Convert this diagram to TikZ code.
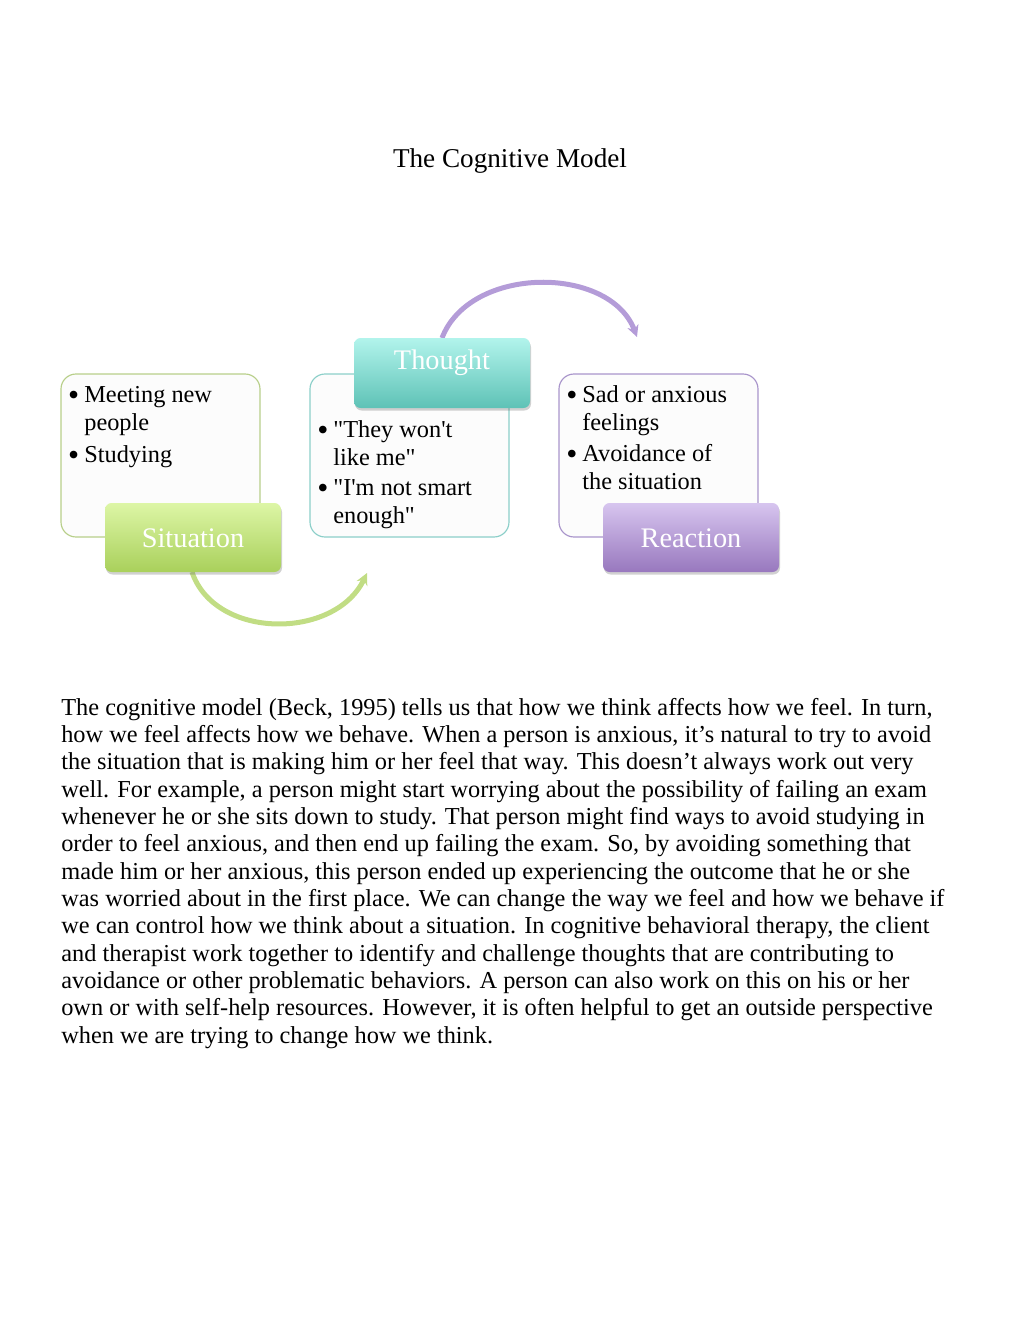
\documentclass[tikz,border=0pt]{standalone}
\usepackage{fontspec}
\setmainfont{Liberation Serif}[Ligatures=TeXOff]
\usetikzlibrary{shapes,arrows.meta,positioning,shadows}

\definecolor{sitline}{HTML}{B8CF8A}
\definecolor{sittop}{HTML}{DDF6A6}
\definecolor{sitbot}{HTML}{A9D05B}
\definecolor{tholine}{HTML}{8CCFC9}
\definecolor{thotop}{HTML}{B2F4EC}
\definecolor{thobot}{HTML}{5EC2B6}
\definecolor{realine}{HTML}{A995CB}
\definecolor{reatop}{HTML}{D7C5EF}
\definecolor{reabot}{HTML}{9878BE}
\definecolor{greenarc}{HTML}{C1DD84}
\definecolor{purplearc}{HTML}{B49CD8}

\newcommand\txtsize{\fontsize{14.6bp}{16.4bp}\selectfont}
\newcommand\headsize{\fontsize{17bp}{20bp}\selectfont}
\newcommand\titlesize{\fontsize{16.3bp}{18bp}\selectfont}

\tikzset{
  infobox/.style={draw=#1, line width=0.7bp, fill=white!99!black, rounded corners=9bp,
    minimum width=119.4bp, minimum height=97.8bp, inner sep=0},
  headbox/.style 2 args={top color=#1, bottom color=#2, rounded corners=4bp,
    minimum width=105.6bp, inner sep=0, text=white, font=\headsize,
    drop shadow={shadow xshift=0.6bp, shadow yshift=-1.5bp, opacity=0.3, fill=black!60}},
  bullets/.style={anchor=base west, align=left, inner sep=0, font=\txtsize},
  cyclearc/.style={line width=3bp, draw=#1, -{Stealth[length=7bp,width=7bp]}}
}

\newcommand\bul{\llap{\raisebox{-1.8bp}{\fontsize{19bp}{19bp}\selectfont\textbullet}\hspace{3bp}}}

\begin{document}
\begin{tikzpicture}[x=0.6bp,y=-0.6bp]
\useasboundingbox (0,0) rectangle (1020,1320);

\node[anchor=base, inner sep=0, font=\titlesize] (title) at (510,167) {The Cognitive Model};

% text boxes
\node[infobox=sitline] (sitbox) at (160.5,455.5) {};
\node[infobox=tholine] (thobox) at (409.5,455.5) {};
\node[infobox=realine] (reabox) at (658.5,455.5) {};

% bullet lists (anchored at the baseline of their last line)
\node[bullets] (sit1) at (84,430) {\bul Meeting new\\people};
\node[bullets] (sit2) at (84,462) {\bul Studying};
\node[bullets] (tho1) at (333,465) {\bul "They won't\\like me"};
\node[bullets] (tho2) at (333,523) {\bul "I'm not smart\\enough"};
\node[bullets] (rea1) at (582,430) {\bul Sad or anxious\\feelings};
\node[bullets] (rea2) at (582,489) {\bul Avoidance of\\the situation};

% arcs
\coordinate (greenend) at (367,573);
\coordinate (purpleend) at (637,337);
\draw[cyclearc=greenarc] (192,572) .. controls (215,640) and (335,640) .. (greenend);
\draw[cyclearc=purplearc] (442,338) .. controls (470,265) and (610,265) .. (purpleend);

% heading boxes
\node[headbox={sittop}{sitbot}, anchor=base, text height=26.4bp, text depth=15bp] (sithead) at (193,547) {Situation};
\node[headbox={thotop}{thobot}, anchor=base, text height=18.6bp, text depth=23.4bp] (thohead) at (442,369) {Thought};
\node[headbox={reatop}{reabot}, anchor=base, text height=26.4bp, text depth=15bp] (reahead) at (691,547) {Reaction};

% paragraph
\node[bullets] (para) at (61,1043) {The cognitive model (Beck, 1995) tells us that how we think affects how we feel. In turn,\\
how we feel affects how we behave. When a person is anxious, it’s natural to try to avoid\\
the situation that is making him or her feel that way. This doesn’t always work out very\\
well. For example, a person might start worrying about the possibility of failing an exam\\
whenever he or she sits down to study. That person might find ways to avoid studying in\\
order to feel anxious, and then end up failing the exam. So, by avoiding something that\\
made him or her anxious, this person ended up experiencing the outcome that he or she\\
was worried about in the first place. We can change the way we feel and how we behave if\\
we can control how we think about a situation. In cognitive behavioral therapy, the client\\
and therapist work together to identify and challenge thoughts that are contributing to\\
avoidance or other problematic behaviors. A person can also work on this on his or her\\
own or with self-help resources. However, it is often helpful to get an outside perspective\\
when we are trying to change how we think.};
\end{tikzpicture}
\end{document}
